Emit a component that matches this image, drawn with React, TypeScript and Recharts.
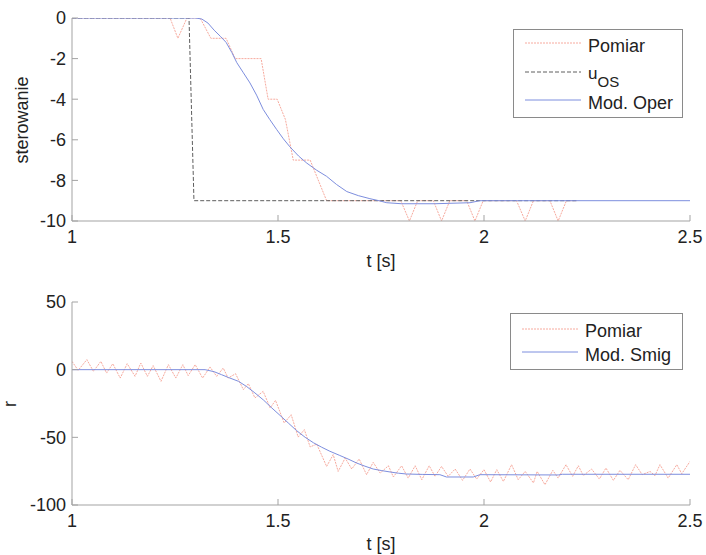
import React from 'react';
import { LineChart, Line, XAxis, YAxis, Legend } from 'recharts';

const FONT = '"Liberation Sans", Arial, Helvetica, sans-serif';
const AXIS = '#a3a3a3';
const TEXT = '#222222';
const RED = '#f7aa9e';
const BLUE = '#7d8ede';
const GRAY = '#5e5e5e';

const xTicks = [1, 1.5, 2, 2.5];
const uTicks = [-10, -8, -6, -4, -2, 0];
const rTicks = [-100, -50, 0, 50];

// ---- top plot: sterowanie ----
const pomiarUT = [1.0, 1.238, 1.257, 1.279, 1.311, 1.337, 1.374, 1.396, 1.459, 1.476, 1.498, 1.518, 1.537, 1.578, 1.618, 1.798, 1.819, 1.839, 1.877, 1.897, 1.917, 1.958, 1.978, 1.998, 2.079, 2.1, 2.12, 2.16, 2.18, 2.2, 2.225];
const pomiarU = [0, 0, -1, 0, 0, -1, -1, -2, -2, -4, -4, -5, -7, -7, -9, -9, -10, -9, -9, -10, -9, -9, -10, -9, -9, -10, -9, -9, -10, -9, -9];

const uOsT = [1.0, 1.284, 1.296, 2.225];
const uOs = [0, 0, -9, -9];

const modOperT = [1.0, 1.3, 1.315, 1.33, 1.345, 1.36, 1.374, 1.388, 1.4, 1.416, 1.432, 1.448, 1.464, 1.48, 1.497, 1.513, 1.529, 1.55, 1.57, 1.594, 1.618, 1.642, 1.667, 1.695, 1.723, 1.745, 1.764, 1.8, 1.88, 1.966, 1.99, 2.5];
const modOper = [0, 0, -0.05, -0.25, -0.6, -0.9, -1.2, -1.7, -2.2, -2.7, -3.2, -3.8, -4.5, -5.0, -5.5, -5.95, -6.35, -6.8, -7.15, -7.5, -7.8, -8.2, -8.55, -8.75, -8.9, -9.0, -9.1, -9.15, -9.15, -9.1, -9.0, -9.0];

// ---- bottom plot: r ----
const pomiarRT = [1.0, 1.015, 1.036, 1.052, 1.07, 1.084, 1.099, 1.117, 1.134, 1.153, 1.167, 1.183, 1.197, 1.216, 1.234, 1.252, 1.269, 1.282, 1.299, 1.317, 1.335, 1.351, 1.367, 1.379, 1.397, 1.416, 1.428, 1.444, 1.464, 1.481, 1.494, 1.515, 1.532, 1.549, 1.564, 1.578, 1.594, 1.618, 1.634, 1.646, 1.663, 1.679, 1.697, 1.715, 1.731, 1.748, 1.768, 1.78, 1.8, 1.816, 1.833, 1.849, 1.867, 1.881, 1.897, 1.913, 1.93, 1.948, 1.966, 1.982, 2.0, 2.016, 2.031, 2.047, 2.067, 2.083, 2.1, 2.12, 2.129, 2.148, 2.167, 2.18, 2.199, 2.215, 2.229, 2.241, 2.261, 2.28, 2.296, 2.314, 2.33, 2.35, 2.368, 2.384, 2.403, 2.415, 2.427, 2.447, 2.468, 2.48, 2.5];
const pomiarR = [6.1, -0.5, 7.4, -1.2, 6.1, -2.5, 4.4, -6.2, 4.4, -4.9, 4.9, -4.9, 3.0, -8.6, 3.7, -6.2, 3.7, -4.4, 3.7, -6.2, 2.0, -4.9, 1.2, -6.2, -3.0, -14.8, -10.3, -20.9, -16.0, -28.3, -22.7, -39.4, -33.3, -49.8, -44.3, -57.1, -55.0, -71.5, -62.8, -75.2, -65.3, -73.4, -66.0, -77.6, -68.5, -76.4, -71.0, -79.3, -71.0, -80.1, -71.0, -81.3, -71.0, -78.8, -71.5, -78.8, -73.4, -81.8, -73.4, -80.8, -73.9, -83.0, -73.9, -82.6, -70.2, -81.3, -75.2, -83.7, -75.2, -85.0, -74.4, -80.1, -70.2, -78.8, -71.0, -78.3, -73.4, -80.8, -72.7, -81.8, -74.4, -81.3, -70.2, -77.6, -75.2, -78.3, -70.2, -80.1, -70.2, -76.9, -67.8];

const modSmigT = [1.0, 1.323, 1.345, 1.363, 1.38, 1.404, 1.424, 1.444, 1.465, 1.485, 1.505, 1.525, 1.545, 1.566, 1.586, 1.606, 1.626, 1.65, 1.67, 1.691, 1.711, 1.731, 1.752, 1.772, 1.792, 1.812, 1.85, 1.893, 1.909, 1.974, 1.99, 2.18, 2.19, 2.5];
const modSmig = [0, 0, -1.5, -3.7, -5.8, -8.6, -12.5, -17.2, -22.5, -28.3, -33.8, -39.4, -45.0, -50.0, -54.0, -57.3, -60.3, -63.4, -66.0, -69.0, -71.3, -73.4, -74.6, -75.6, -76.5, -77.1, -77.4, -77.6, -79.3, -79.3, -77.6, -77.8, -77.3, -77.3];

const zip = (ts: number[], vs: number[]) => ts.map((t, i) => ({ t, v: vs[i] }));

const pomiarUData = zip(pomiarUT, pomiarU);
const uOsData = zip(uOsT, uOs);
const modOperData = zip(modOperT, modOper);
const pomiarRData = zip(pomiarRT, pomiarR);
const modSmigData = zip(modSmigT, modSmig);

const TL = 6; // inward tick length
const FS = 18;
const RED_DASH = '2 1';
const OS_DASH = '4 2';

const BottomTick = (p: any) => {
  const { x, y, payload } = p;
  const ay = y - 9;
  return (
    <g>
      <line x1={x} y1={ay} x2={x} y2={ay - TL} stroke={AXIS} />
      <text x={x} y={y} dy="0.71em" textAnchor="middle" fontSize={FS} fontFamily={FONT} fill={TEXT}>
        {String(payload.value)}
      </text>
    </g>
  );
};

const TopTick = (p: any) => {
  const { x, y } = p;
  return <line x1={x} y1={y} x2={x} y2={y + TL} stroke={AXIS} />;
};

const LeftTick = (p: any) => {
  const { x, y, payload } = p;
  const ax = x + 6;
  return (
    <g>
      <line x1={ax} y1={y} x2={ax + TL} y2={y} stroke={AXIS} />
      <text x={x} y={y} dy="0.355em" textAnchor="end" fontSize={FS} fontFamily={FONT} fill={TEXT}>
        {String(payload.value)}
      </text>
    </g>
  );
};

const RightTick = (p: any) => {
  const { x, y } = p;
  return <line x1={x} y1={y} x2={x - TL} y2={y} stroke={AXIS} />;
};

const XLabel = (p: any) => (
  <text x={p.cx} y={p.cy} textAnchor="middle" fontSize={FS} fontFamily={FONT} fill={TEXT}>
    {p.text}
  </text>
);

const YLabel = (p: any) => (
  <text
    x={p.cx}
    y={p.cy}
    transform={`rotate(-90 ${p.cx} ${p.cy})`}
    textAnchor="middle"
    fontSize={FS}
    fontFamily={FONT}
    fill={TEXT}
  >
    {p.text}
  </text>
);

type Item = { label: React.ReactNode; color: string; dash?: string; ly: number; ty: number };

const LegendBox = ({ w, h, items }: { w: number; h: number; items: Item[] }) => (
  <svg width={w} height={h} style={{ display: 'block' }}>
    <rect x={0.5} y={0.5} width={w - 1} height={h - 1} fill="#ffffff" stroke="#8a8a8a" />
    {items.map((it, i) => (
      <g key={i}>
        <line x1={12} x2={68} y1={it.ly} y2={it.ly} stroke={it.color} strokeDasharray={it.dash} />
        <text x={75} y={it.ty} fontSize={FS} fontFamily={FONT} fill={TEXT}>
          {it.label}
        </text>
      </g>
    ))}
  </svg>
);

const topLegendItems: Item[] = [
  { label: 'Pomiar', color: RED, dash: RED_DASH, ly: 14, ty: 23 },
  {
    label: (
      <>
        <tspan fontSize={17}>u</tspan>
        <tspan dy={8} fontSize={15}>OS</tspan>
      </>
    ),
    color: GRAY,
    dash: OS_DASH,
    ly: 43,
    ty: 50,
  },
  { label: 'Mod. Oper', color: BLUE, ly: 71, ty: 80 },
];

const bottomLegendItems: Item[] = [
  { label: 'Pomiar', color: RED, dash: RED_DASH, ly: 16, ty: 24 },
  { label: 'Mod. Smig', color: BLUE, ly: 39, ty: 48 },
];

export default function App() {
  return (
    <div style={{ position: 'absolute', left: 0, top: 0, width: 706, height: 555, background: '#fff', fontFamily: FONT }}>
      <LineChart width={706} height={280} margin={{ top: 18, right: 16, bottom: 0, left: 0 }}>
        <XAxis
          xAxisId="b"
          dataKey="t"
          type="number"
          domain={[1, 2.5]}
          ticks={xTicks}
          height={59}
          tickSize={0}
          tickMargin={9}
          tick={<BottomTick />}
          stroke={AXIS}
          allowDataOverflow
          label={<XLabel cx={381} cy={267} text="t [s]" />}
        />
        <XAxis
          xAxisId="top"
          orientation="top"
          dataKey="t"
          type="number"
          domain={[1, 2.5]}
          ticks={xTicks}
          height={0}
          tickSize={0}
          tickMargin={0}
          tick={<TopTick />}
          stroke={AXIS}
          allowDataOverflow
        />
        <YAxis
          yAxisId="l"
          type="number"
          domain={[-10, 0]}
          ticks={uTicks}
          width={72}
          tickSize={0}
          tickMargin={6}
          tick={<LeftTick />}
          stroke={AXIS}
          allowDataOverflow
          label={<YLabel cx={28} cy={120} text="sterowanie" />}
        />
        <YAxis
          yAxisId="r"
          orientation="right"
          type="number"
          domain={[-10, 0]}
          ticks={uTicks}
          width={0}
          tickSize={0}
          tickMargin={0}
          tick={<RightTick />}
          stroke={AXIS}
          allowDataOverflow
        />
        <Line xAxisId="b" yAxisId="l" data={pomiarUData} dataKey="v" name="Pomiar" stroke={RED} strokeDasharray={RED_DASH} strokeWidth={1} dot={false} isAnimationActive={false} type="linear" />
        <Line xAxisId="b" yAxisId="l" data={uOsData} dataKey="v" name="uOS" stroke={GRAY} strokeDasharray={OS_DASH} strokeWidth={1} dot={false} isAnimationActive={false} type="linear" />
        <Line xAxisId="b" yAxisId="l" data={modOperData} dataKey="v" name="Mod. Oper" stroke={BLUE} strokeWidth={1} dot={false} isAnimationActive={false} type="linear" />
        <Legend
          layout="vertical"
          align="center"
          verticalAlign="middle"
          wrapperStyle={{ left: 513, top: 29, width: 170, height: 89 }}
          content={() => <LegendBox w={170} h={89} items={topLegendItems} />}
        />
      </LineChart>
      <LineChart width={706} height={275} margin={{ top: 22, right: 16, bottom: 0, left: 0 }}>
        <XAxis
          xAxisId="b"
          dataKey="t"
          type="number"
          domain={[1, 2.5]}
          ticks={xTicks}
          height={50}
          tickSize={0}
          tickMargin={9}
          tick={<BottomTick />}
          stroke={AXIS}
          allowDataOverflow
          label={<XLabel cx={381} cy={270} text="t [s]" />}
        />
        <XAxis
          xAxisId="top"
          orientation="top"
          dataKey="t"
          type="number"
          domain={[1, 2.5]}
          ticks={xTicks}
          height={0}
          tickSize={0}
          tickMargin={0}
          tick={<TopTick />}
          stroke={AXIS}
          allowDataOverflow
        />
        <YAxis
          yAxisId="l"
          type="number"
          domain={[-100, 50]}
          ticks={rTicks}
          width={72}
          tickSize={0}
          tickMargin={6}
          tick={<LeftTick />}
          stroke={AXIS}
          allowDataOverflow
          label={<YLabel cx={16} cy={124} text="r" />}
        />
        <YAxis
          yAxisId="r"
          orientation="right"
          type="number"
          domain={[-100, 50]}
          ticks={rTicks}
          width={0}
          tickSize={0}
          tickMargin={0}
          tick={<RightTick />}
          stroke={AXIS}
          allowDataOverflow
        />
        <Line xAxisId="b" yAxisId="l" data={pomiarRData} dataKey="v" name="Pomiar" stroke={RED} strokeDasharray={RED_DASH} strokeWidth={1} dot={false} isAnimationActive={false} type="linear" />
        <Line xAxisId="b" yAxisId="l" data={modSmigData} dataKey="v" name="Mod. Smig" stroke={BLUE} strokeWidth={1} dot={false} isAnimationActive={false} type="linear" />
        <Legend
          layout="vertical"
          align="center"
          verticalAlign="middle"
          wrapperStyle={{ left: 510, top: 33, width: 173, height: 57 }}
          content={() => <LegendBox w={173} h={57} items={bottomLegendItems} />}
        />
      </LineChart>
    </div>
  );
}
